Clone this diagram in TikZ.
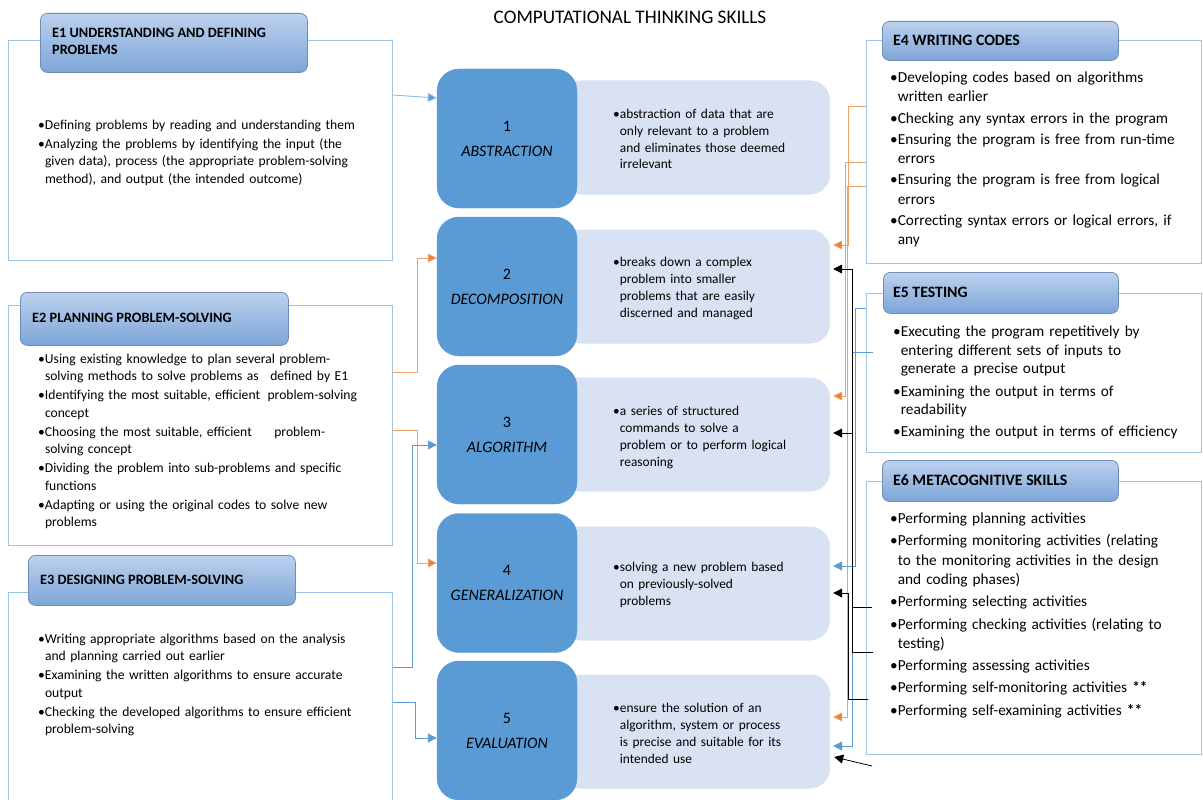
\documentclass[tikz,border=0pt]{standalone}
\usepackage{fontspec}
\setmainfont{Carlito}
\usetikzlibrary{arrows.meta,calc}
\definecolor{dk}{HTML}{5B9BD5}
\definecolor{lt}{HTML}{D9E2F3}
\definecolor{outlc}{HTML}{9DC3E6}
\definecolor{hTop}{HTML}{BCD1EE}
\definecolor{hBot}{HTML}{7EA5D8}
\definecolor{hBrd}{HTML}{6F8DB5}
\definecolor{org}{HTML}{ED7D31}
\definecolor{orgl}{HTML}{F2A06A}
\definecolor{cb}{HTML}{5B9BD5}
\newcommand\itm[1]{\par\hangindent=0.5em\hangafter=1\noindent\makebox[0.5em][l]{\textbullet}#1\par}
\begin{document}
\begin{tikzpicture}[x=1pt,y=-1pt,
  outlbox/.style={draw=outlc, line width=0.9pt, anchor=north west, inner sep=0pt},
  hdr/.style={draw=hBrd, line width=0.8pt, rounded corners=7pt, top color=hTop, bottom color=hBot, anchor=north west, inner sep=0pt},
  htxt/.style={anchor=west, inner sep=0pt, font=\fontsize{14.3}{17}\selectfont\bfseries, align=left},
  htxtR/.style={htxt, font=\fontsize{15.8}{18}\selectfont\bfseries},
  dkbox/.style={fill=dk, draw=dk, rounded corners=22pt, minimum width=140pt, minimum height=139pt, inner sep=0pt, align=center, font=\fontsize{16}{25}\selectfont},
  ltbox/.style={fill=lt, rounded corners=20pt, minimum width=270pt, minimum height=114pt, inner sep=0pt},
  body/.style={anchor=north west, inner sep=0pt, align=left, text width=#1},
  fE/.style={font=\fontsize{13.6}{17.5}\selectfont, execute at begin node={\setlength{\parskip}{1.5pt}}},
  fR/.style={font=\fontsize{15.3}{19.3}\selectfont, execute at begin node={\setlength{\parskip}{#1}}},
  fL/.style={font=\fontsize{13.4}{16.7}\selectfont, execute at begin node={\setlength{\parskip}{0pt}}},
  con/.style={line width=0.9pt, -{Triangle[length=9pt,width=9pt]}},
  bcon/.style={con, draw=cb},
  lbcon/.style={con, draw=outlc!80!cb, -{Triangle[length=9pt,width=9pt,fill=cb]}},
  ocon/.style={con, draw=orgl, -{Triangle[length=9pt,width=9pt,fill=org]}},
  kcon/.style={con, draw=black, line width=0.8pt}
]
\useasboundingbox[fill=white] (0,0) rectangle (1203,800);

% title
\node[font=\fontsize{19.2}{22}\selectfont] (title) at (630,17) {COMPUTATIONAL THINKING SKILLS};

% outline boxes
\node[outlbox, minimum width=384pt, minimum height=220pt] (e1box) at (8,40) {};
\node[outlbox, minimum width=384pt, minimum height=240pt] (e2box) at (8,305) {};
\node[outlbox, minimum width=384pt, minimum height=230pt] (e3box) at (8,592) {};
\node[outlbox, minimum width=335pt, minimum height=223pt] (e4box) at (866,40) {};
\node[outlbox, minimum width=335pt, minimum height=159pt] (e5box) at (866,293) {};
\node[outlbox, minimum width=335pt, minimum height=273pt] (e6box) at (866,481) {};

% headers
\node[hdr, minimum width=267pt, minimum height=59pt] (h1) at (40,13) {};
\node[hdr, minimum width=268pt, minimum height=53pt] (h2) at (20,292) {};
\node[hdr, minimum width=267pt, minimum height=50pt] (h3) at (28,555) {};
\node[hdr, minimum width=236pt, minimum height=39pt] (h4) at (882,21) {};
\node[hdr, minimum width=235pt, minimum height=41pt] (h5) at (883,272) {};
\node[hdr, minimum width=236pt, minimum height=41pt] (h6) at (882,460) {};
\node[htxt] (h1t) at (52,41.5) {E1 UNDERSTANDING AND DEFINING\\PROBLEMS};
\node[htxt] (h2t) at (32,318) {E2 PLANNING PROBLEM-SOLVING};
\node[htxt] (h3t) at (40,580) {E3 DESIGNING PROBLEM-SOLVING};
\node[htxtR] (h4t) at (893,40) {E4 WRITING CODES};
\node[htxtR] (h5t) at (893,292) {E5 TESTING};
\node[htxtR] (h6t) at (893,480) {E6 METACOGNITIVE SKILLS};

% light boxes
\node[ltbox] (l1) at (695,137.5) {};
\node[ltbox] (l2) at (695,286.5) {};
\node[ltbox] (l3) at (695,434.5) {};
\node[ltbox] (l4) at (695,583.5) {};
\node[ltbox] (l5) at (695,731.5) {};

% dark boxes
\node[dkbox] (d1) at (507,138.5) {1\\\textit{ABSTRACTION}};
\node[dkbox] (d2) at (507,286.5) {2\\\textit{DECOMPOSITION}};
\node[dkbox] (d3) at (507,434.5) {3\\\textit{ALGORITHM}};
\node[dkbox] (d4) at (507,583) {4\\\textit{GENERALIZATION}};
\node[dkbox] (d5) at (507,730.5) {5\\\textit{EVALUATION}};

% light box texts
\node[body=220pt, fL] (t1) at (613,102) {\itm{abstraction of data that are\newline only relevant to a problem\newline and eliminates those deemed\newline irrelevant}};
\node[body=220pt, fL] (t2) at (613,250) {\itm{breaks down a complex\newline problem into smaller\newline problems that are easily\newline discerned and managed}};
\node[body=220pt, fL] (t3) at (613,399) {\itm{a series of structured\newline commands to solve a\newline problem or to perform logical\newline reasoning}};
\node[body=220pt, fL] (t4) at (613,555) {\itm{solving a new problem based\newline on previously-solved\newline problems}};
\node[body=220pt, fL] (t5) at (613,696) {\itm{ensure the solution of an\newline algorithm, system or process\newline is precise and suitable for its\newline intended use}};

% left texts
\node[body=360pt, fE] (e1t) at (38,110) {\itm{Defining problems by reading and understanding them}
\itm{Analyzing the problems by identifying the input (the\newline given data), process (the appropriate problem-solving\newline method), and output (the intended outcome)}};
\node[body=360pt, fE] (e2t) at (38,344) {\itm{Using existing knowledge to plan several problem-\newline solving methods to solve problems as\hspace{7pt} defined by E1}
\itm{Identifying the most suitable, efficient\hspace{3pt} problem-solving\newline concept}
\itm{Choosing the most suitable, efficient\hspace{18pt} problem-\newline solving concept}
\itm{Dividing the problem into sub-problems and specific\newline functions}
\itm{Adapting or using the original codes to solve new\newline problems}};
\node[body=360pt, fE] (e3t) at (38,624) {\itm{Writing appropriate algorithms based on the analysis\newline and planning carried out earlier}
\itm{Examining the written algorithms to ensure accurate\newline output}
\itm{Checking the developed algorithms to ensure efficient\newline problem-solving}};

% right texts
\node[body=310pt, fR=2pt] (e4t) at (890,61) {\itm{Developing codes based on algorithms\newline written earlier}
\itm{Checking any syntax errors in the program}
\itm{Ensuring the program is free from run-time\newline errors}
\itm{Ensuring the program is free from logical\newline errors}
\itm{Correcting syntax errors or logical errors, if\newline any}};
\node[body=310pt, fR=4.5pt, font=\fontsize{15.3}{18.2}\selectfont] (e5t) at (893,314) {\itm{Executing the program repetitively by\newline entering different sets of inputs to\newline generate a precise output}
\itm{Examining the output in terms of\newline readability}
\itm{Examining the output in terms of efficiency}};
\node[body=310pt, fR=3pt] (e6t) at (890,501) {\itm{Performing planning activities}
\itm{Performing monitoring activities (relating\newline to the monitoring activities in the design\newline and coding phases)}
\itm{Performing selecting activities}
\itm{Performing checking activities (relating to\newline testing)}
\itm{Performing assessing activities}
\itm{Performing self-monitoring activities \textbf{**}}
\itm{Performing self-examining activities \textbf{**}}};

% left connectors
\draw[lbcon] ([yshift=-55pt]e1box.north east) -- ([yshift=40.5pt]d1.west);
\draw[ocon] ([yshift=-67pt]e2box.north east) -- ++(25,0) |- ([yshift=28.5pt]d2.west);
\draw[ocon] ([yshift=-125pt]e2box.north east) -- ++(25,0) |- ([yshift=20pt]d4.west);
\draw[bcon] ([yshift=-75pt]e3box.north east) -- ++(20,0) |- ([yshift=-10.5pt]d3.west);
\draw[bcon] ([yshift=-110pt]e3box.north east) -- ++(23,0) |- ([yshift=-7.5pt]d5.west);

% right connectors: orange from E4
\draw[ocon] ([yshift=-66pt]e4box.north west) -- ++(-18,0) |- ([xshift=3pt,yshift=41.5pt]l2.east);
\draw[ocon] ([yshift=-122pt]e4box.north west) -- ++(-21,0) |- ([xshift=3pt,yshift=38.5pt]l3.east);
\draw[ocon] ([yshift=-146pt]e4box.north west) -- ++(-19,0) |- ([xshift=3pt,yshift=14.5pt]l5.east);
% blue from E5
\draw[bcon] ([yshift=-15pt]e5box.north west) -- ++(-11,0) |- ([xshift=3pt,yshift=17.5pt]l4.east);
\draw[bcon] ([xshift=7pt,yshift=-59pt]e5box.north west) -- ++(-21,0) |- ([xshift=3pt,yshift=-14.5pt]l5.east);
% black from E6
\draw[kcon] ([xshift=6pt,yshift=-126pt]e6box.north west) -- ++(-20,0) |- ([xshift=3pt,yshift=17.5pt]l2.east);
\draw[kcon] ([xshift=7pt,yshift=-171pt]e6box.north west) -- ++(-21,0) |- ([xshift=3pt,yshift=1.5pt]l3.east);
\draw[kcon] ([xshift=2pt,yshift=-218pt]e6box.north west) -- ++(-20,0) |- ([xshift=3pt,yshift=-9.5pt]l4.east);
\coordinate (kfree) at (872,766);
\draw[kcon] (kfree) -- ([xshift=4pt,yshift=-25.5pt]l5.east);
\end{tikzpicture}
\end{document}
